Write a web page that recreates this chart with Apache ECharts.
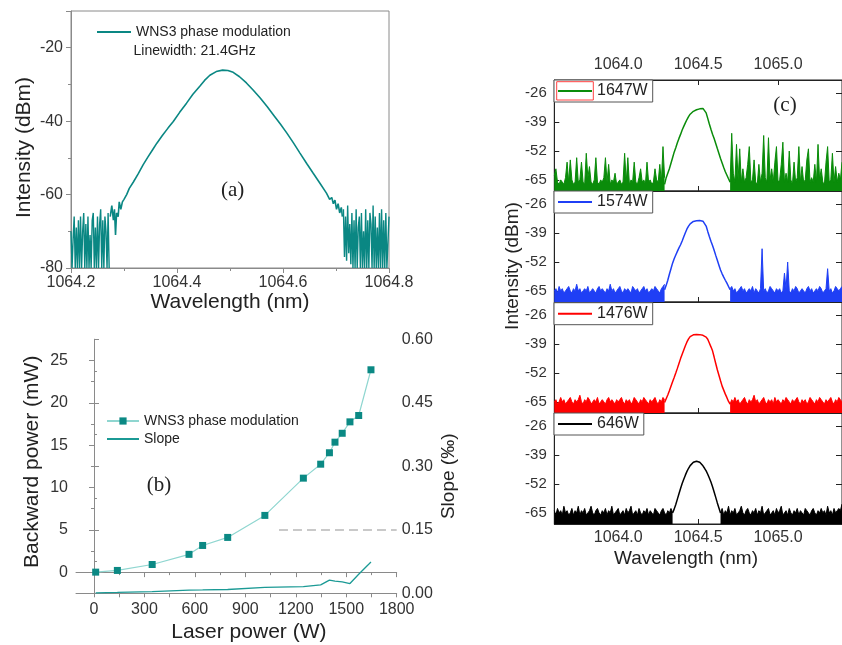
<!DOCTYPE html>
<html><head><meta charset="utf-8">
<script src="https://cdn.jsdelivr.net/npm/echarts/dist/echarts.min.js"></script>
<style>html,body{margin:0;padding:0;background:#fff}#chart{width:842px;height:645px}</style>
</head><body><div id="chart"></div>
<script>
// ---------------- Panel (a) data ----------------
const aNoiseStep = 0.002;
const aNoiseLStart = 1064.200;
const aNoiseRStart = 1064.714;
const aNoiseL = [-70,-80,-72,-66,-80,-69,-80,-67,-80,-66,-80,-70,-65,-80,-68,-80,-66,-80,-71,-80,-67,-65,-80,-69,-80,-66,-80,-68,-64,-80,-67,-80,-66,-70,-80,-65,-80];
const aNoiseR = [-64,-77,-66,-78,-63,-76,-68,-79,-65,-80,-67,-80,-64,-80,-69,-66,-80,-65,-80,-70,-80,-64,-80,-67,-80,-65,-68,-80,-63,-80,-66,-80,-69,-80,-65,-80,-64,-80,-67,-80,-65,-80,-80,-66];
const aPeak = [[1064.274,-66],[1064.277,-63],[1064.280,-67],[1064.282,-64],[1064.284,-71],[1064.286,-65],[1064.289,-66],[1064.291,-62],[1064.294,-64],[1064.297,-62],[1064.300,-61.3],[1064.305,-60],[1064.310,-58.3],[1064.318,-56.5],[1064.327,-54.3],[1064.336,-51.9],[1064.345,-49.8],[1064.354,-47.8],[1064.362,-46.0],[1064.372,-44.0],[1064.383,-41.9],[1064.393,-40.1],[1064.405,-37.6],[1064.418,-35.1],[1064.430,-32.7],[1064.443,-30.5],[1064.452,-28.9],[1064.462,-27.5],[1064.474,-26.5],[1064.486,-26.1],[1064.496,-26.2],[1064.506,-26.7],[1064.518,-27.9],[1064.531,-29.6],[1064.544,-31.6],[1064.557,-33.7],[1064.570,-36.0],[1064.582,-38.3],[1064.595,-40.8],[1064.607,-43.2],[1064.620,-46.0],[1064.632,-48.7],[1064.645,-51.6],[1064.657,-54.2],[1064.670,-57.0],[1064.682,-59.6],[1064.688,-61.3],[1064.692,-60.8],[1064.695,-62.5],[1064.698,-61.5],[1064.701,-64],[1064.704,-62.5],[1064.707,-65],[1064.710,-63.5],[1064.712,-66]];

// ---------------- Panel (b) data ----------------
const bLaser = [10,139,346,565,646,795,1016,1245,1348,1400,1433,1476,1522,1574,1647];
const bBackward = [0,0.2,0.9,2.1,3.15,4.1,6.7,11.1,12.75,14.1,15.35,16.4,17.75,18.5,23.9];
const bSlope = [0.001,0.002,0.004,0.0075,0.008,0.009,0.014,0.016,0.02,0.031,0.029,0.027,0.023,0.045,0.074];
const bRefLine = [1100, 1800, 0.15];
const bXTicks = [0,300,600,900,1200,1500,1800];
const bXMinor = [150,450,750,1050,1350,1650];
const bXTop = [0,150,300,450,600,750,900,1050,1200,1350,1500,1650,1800];
const bYTicks = [0,5,10,15,20,25];
const bYMinor = [2.5,7.5,12.5,17.5,22.5];

// ---------------- Panel (c) data ----------------
const cNames = ['1647W','1574W','1476W','646W'];
const cStep = 0.01;
const cLeftStart = 1063.60;
const cRightStart = [1064.70,1064.70,1064.70,1064.64];
const cYTicks = [-65,-52,-39,-26];
const cXTicks = [1064.0,1064.5,1065.0];
const cNoiseL1647 = [-63,-60,-66,-67,-65,-66,-67,-64,-57,-66,-56,-65,-67,-66,-55,-66,-65,-57,-66,-67,-53,-64,-59,-66,-67,-65,-55,-66,-67,-65,-66,-64,-55,-66,-58,-67,-65,-66,-62,-67,-66,-65,-67,-66,-53,-66,-55,-67,-65,-66,-57,-66,-67,-64,-60,-66,-65,-67,-57,-66,-65,-67,-66,-60,-65,-66,-58,-66,-50,-64];
const cNoiseR1647 = [-66,-44,-62,-66,-49,-65,-51,-66,-60,-66,-64,-58,-50,-66,-65,-56,-66,-67,-58,-66,-62,-45,-64,-66,-46,-65,-60,-66,-57,-50,-66,-65,-58,-48,-66,-62,-66,-52,-65,-67,-57,-66,-64,-50,-66,-59,-66,-65,-56,-51,-66,-64,-66,-58,-66,-49,-65,-60,-66,-67,-57,-50,-66,-65,-53,-66,-59,-66,-62,-65,-57];
const cPeak1647 = [[1064.29,-67],[1064.30,-64],[1064.31,-62],[1064.32,-60],[1064.33,-57.5],[1064.34,-55],[1064.35,-52.5],[1064.36,-50.5],[1064.37,-48.3],[1064.38,-46.3],[1064.39,-44.5],[1064.40,-42.5],[1064.41,-40.9],[1064.42,-39.3],[1064.43,-37.8],[1064.44,-36.5],[1064.45,-35.4],[1064.46,-34.7],[1064.47,-34.1],[1064.48,-33.7],[1064.49,-33.4],[1064.50,-33.2],[1064.51,-33.0],[1064.52,-32.9],[1064.53,-32.8],[1064.54,-33.0],[1064.55,-34.8],[1064.56,-37.3],[1064.57,-39.8],[1064.58,-42.2],[1064.59,-44.4],[1064.60,-46.4],[1064.61,-48.6],[1064.62,-50.9],[1064.63,-53.1],[1064.64,-55.4],[1064.65,-57.4],[1064.66,-59.4],[1064.67,-61.3],[1064.68,-62.9],[1064.69,-64.5],[1064.70,-66]];
const cNoiseL1574 = [-65,-64,-66,-63,-65,-64,-66,-65,-64,-63,-65,-66,-64,-65,-62,-65,-64,-66,-65,-64,-65,-63,-66,-65,-64,-65,-66,-64,-63,-65,-64,-65,-66,-64,-65,-62,-65,-64,-66,-65,-64,-63,-65,-66,-64,-65,-64,-65,-66,-63,-64,-65,-64,-66,-65,-64,-63,-65,-64,-66,-65,-64,-65,-63,-64,-65,-66,-64,-63,-62];
const cNoiseR1574 = [-64,-63,-65,-64,-66,-65,-64,-63,-65,-64,-66,-65,-64,-65,-63,-66,-64,-65,-66,-64,-46,-65,-64,-66,-65,-63,-64,-65,-66,-64,-65,-64,-66,-65,-57,-64,-52,-65,-66,-64,-65,-63,-64,-66,-65,-64,-65,-66,-64,-63,-65,-64,-66,-65,-64,-65,-63,-64,-66,-65,-64,-55,-65,-64,-66,-65,-63,-64,-65,-64,-63];
const cPeak1574 = [[1064.29,-64.5],[1064.30,-62.5],[1064.31,-60.2],[1064.32,-57.5],[1064.33,-55],[1064.34,-52.5],[1064.35,-50.5],[1064.36,-48.8],[1064.37,-47.2],[1064.38,-45.6],[1064.39,-44.2],[1064.40,-42.5],[1064.41,-40.6],[1064.42,-38.8],[1064.43,-37.1],[1064.44,-35.8],[1064.45,-34.8],[1064.46,-34.1],[1064.47,-33.7],[1064.48,-33.5],[1064.49,-33.4],[1064.50,-33.3],[1064.51,-33.3],[1064.52,-33.3],[1064.53,-33.6],[1064.54,-34.2],[1064.55,-35.8],[1064.56,-38.2],[1064.57,-40.5],[1064.58,-42.6],[1064.59,-44.6],[1064.60,-46.7],[1064.61,-49],[1064.62,-51.2],[1064.63,-53.4],[1064.64,-55.6],[1064.65,-57.3],[1064.66,-58.8],[1064.67,-60.2],[1064.68,-61.5],[1064.69,-63],[1064.70,-64.5]];
const cNoiseL1476 = [-65,-64,-66,-65,-63,-65,-64,-66,-65,-64,-63,-65,-66,-64,-65,-64,-62,-65,-66,-64,-65,-63,-64,-66,-65,-64,-65,-63,-66,-65,-64,-65,-66,-64,-63,-65,-64,-65,-66,-64,-65,-64,-63,-65,-66,-64,-65,-64,-66,-65,-63,-64,-65,-66,-64,-65,-63,-64,-65,-66,-64,-65,-64,-63,-65,-66,-64,-65,-63,-64];
const cNoiseR1476 = [-66,-64,-65,-63,-65,-64,-66,-65,-64,-63,-65,-66,-64,-65,-64,-62,-65,-64,-66,-65,-64,-63,-65,-66,-64,-65,-64,-66,-63,-65,-64,-65,-66,-64,-65,-63,-64,-65,-66,-64,-65,-64,-63,-65,-66,-64,-65,-64,-66,-65,-63,-64,-65,-66,-64,-65,-63,-64,-65,-66,-64,-65,-64,-63,-65,-66,-64,-65,-63,-64,-65];
const cPeak1476 = [[1064.29,-65.3],[1064.30,-63.6],[1064.31,-61.9],[1064.32,-60],[1064.33,-57.9],[1064.34,-55.9],[1064.35,-54],[1064.36,-52],[1064.37,-49.9],[1064.38,-47.7],[1064.39,-45.5],[1064.40,-43.5],[1064.41,-41.6],[1064.42,-39.7],[1064.43,-38],[1064.44,-36.6],[1064.45,-35.6],[1064.46,-35.1],[1064.47,-34.8],[1064.48,-34.6],[1064.49,-34.6],[1064.50,-34.6],[1064.51,-34.7],[1064.52,-34.8],[1064.53,-35],[1064.54,-35.3],[1064.55,-35.8],[1064.56,-36.8],[1064.57,-38.5],[1064.58,-40.2],[1064.59,-42],[1064.60,-44.8],[1064.61,-47.7],[1064.62,-50.5],[1064.63,-53],[1064.64,-55.5],[1064.65,-57.9],[1064.66,-59.7],[1064.67,-61.5],[1064.68,-63.1],[1064.69,-64.8],[1064.70,-66]];
const cNoiseL646 = [-64,-66,-63,-65,-64,-66,-62,-65,-64,-66,-65,-63,-66,-64,-65,-62,-66,-64,-65,-63,-66,-65,-64,-62,-65,-66,-64,-63,-65,-66,-64,-65,-63,-66,-64,-65,-62,-66,-65,-64,-63,-66,-65,-64,-66,-63,-65,-64,-62,-66,-65,-64,-66,-63,-65,-66,-64,-65,-63,-66,-64,-65,-66,-63,-64,-65,-66,-64,-63,-65,-66,-64,-65,-63,-65];
const cNoiseR646 = [-65,-63,-66,-64,-65,-62,-66,-64,-65,-63,-66,-65,-64,-62,-65,-66,-64,-63,-65,-66,-64,-65,-63,-66,-64,-65,-62,-66,-65,-64,-63,-66,-65,-64,-66,-63,-65,-64,-62,-66,-65,-64,-66,-63,-65,-66,-64,-65,-63,-66,-64,-65,-66,-63,-64,-65,-66,-64,-63,-65,-66,-64,-65,-63,-65,-64,-66,-62,-65,-64,-66,-63,-65,-64,-63,-64,-61];
const cPeak646 = [[1064.34,-65],[1064.35,-63.3],[1064.36,-61.2],[1064.37,-58.8],[1064.38,-56.4],[1064.39,-54],[1064.40,-51.8],[1064.41,-49.8],[1064.42,-48],[1064.43,-46.3],[1064.44,-44.9],[1064.45,-43.7],[1064.46,-42.8],[1064.47,-42.2],[1064.48,-41.8],[1064.49,-41.7],[1064.50,-41.8],[1064.51,-42.2],[1064.52,-42.9],[1064.53,-43.8],[1064.54,-44.9],[1064.55,-46.1],[1064.56,-47.6],[1064.57,-49.3],[1064.58,-51.1],[1064.59,-53.2],[1064.60,-55.6],[1064.61,-58],[1064.62,-60.5],[1064.63,-62.8],[1064.64,-65]];

// ---------------- styling ----------------
const FONT = 'Liberation Sans';
const SERIF = 'Liberation Serif';
const TEAL = '#0a8783';
const AX_GRAY = '#8a8a8a';
const cColors = ['#0a8c0a','#1f3ff5','#ff0000','#000000'];
const cNoiseL = [cNoiseL1647, cNoiseL1574, cNoiseL1476, cNoiseL646];
const cNoiseR = [cNoiseR1647, cNoiseR1574, cNoiseR1476, cNoiseR646];
const cPeaks = [cPeak1647, cPeak1574, cPeak1476, cPeak646];
const cTops = [80, 191, 302, 413];

function seq(start, step, vals) {
  return vals.map((v, i) => [Math.round((start + i * step) * 10000) / 10000, v]);
}
const lab = (size, extra) => Object.assign({fontFamily: FONT, fontSize: size, color: '#333'}, extra || {});
const plain = v => String(Math.round(v * 1000) / 1000);

const grids = [
  {left: 71, top: 11, width: 318, height: 257, show: true, borderColor: AX_GRAY, borderWidth: 1},
  {left: 76, top: 339.3, width: 320.7, height: 254, show: false}
];
cTops.forEach(t => grids.push({left: 554.3, top: t, width: 292.4, height: 111, show: true, borderColor: '#222', borderWidth: 1}));

const xAxes = [
  { // 0 panel a
    gridIndex: 0, type: 'value', min: 1064.2, max: 1064.8, interval: 0.2,
    axisLine: {lineStyle: {color: AX_GRAY}}, axisTick: {length: 5, lineStyle: {color: AX_GRAY}},
    minorTick: {show: true, splitNumber: 2, length: 3, lineStyle: {color: AX_GRAY}},
    axisLabel: lab(16, {margin: 7, formatter: v => v.toFixed(1)}), splitLine: {show: false},
    name: 'Wavelength (nm)', nameLocation: 'middle', nameGap: 24,
    nameTextStyle: {fontFamily: FONT, fontSize: 21, color: '#222'}
  },
  { // 1 panel b bottom main
    gridIndex: 1, type: 'value', min: -107, max: 1800, position: 'bottom',
    axisLine: {lineStyle: {color: AX_GRAY}},
    axisTick: {length: 5, customValues: bXTicks, lineStyle: {color: AX_GRAY}},
    axisLabel: lab(16, {margin: 8, customValues: bXTicks, formatter: plain}), splitLine: {show: false},
    name: 'Laser power (W)', nameLocation: 'middle', nameGap: 28,
    nameTextStyle: {fontFamily: FONT, fontSize: 21, color: '#222', padding: [0, 0, 0, 25]}
  },
  { // 2 panel b minor ticks
    gridIndex: 1, type: 'value', min: -107, max: 1800, position: 'bottom',
    axisLine: {show: false}, axisLabel: {show: false}, splitLine: {show: false},
    axisTick: {length: 3, customValues: bXMinor, lineStyle: {color: AX_GRAY}}
  },
  { // 3 panel b top
    gridIndex: 1, type: 'value', min: -107, max: 1800, position: 'top',
    axisLine: {lineStyle: {color: AX_GRAY}}, axisLabel: {show: false}, splitLine: {show: false},
    axisTick: {inside: true, length: 4, customValues: bXTop, lineStyle: {color: AX_GRAY}}
  }
];
for (let k = 0; k < 4; k++) {
  xAxes.push({
    gridIndex: 2 + k, type: 'value', min: 1063.6, max: 1065.4, position: 'bottom',
    axisLine: {lineStyle: {color: '#222'}}, splitLine: {show: false},
    axisTick: {inside: true, length: 5, customValues: cXTicks, lineStyle: {color: '#222'}},
    axisLabel: lab(16, {show: k === 3, margin: 6, customValues: cXTicks, formatter: v => v.toFixed(1)})
  });
}
xAxes.push({ // 8 panel c top labels
  gridIndex: 2, type: 'value', min: 1063.6, max: 1065.4, position: 'top',
  axisLine: {lineStyle: {color: '#222'}}, splitLine: {show: false},
  axisTick: {inside: true, length: 5, customValues: cXTicks, lineStyle: {color: '#222'}},
  axisLabel: lab(16, {margin: 7, customValues: cXTicks, formatter: v => v.toFixed(1)})
});

const yAxes = [
  { // 0 panel a
    gridIndex: 0, type: 'value', min: -80, max: -10, interval: 20,
    axisLine: {show: true, lineStyle: {color: AX_GRAY}}, axisTick: {show: true, length: 5, lineStyle: {color: AX_GRAY}},
    minorTick: {show: true, splitNumber: 2, length: 3, lineStyle: {color: AX_GRAY}},
    axisLabel: lab(16, {margin: 8, showMaxLabel: false, formatter: plain}), splitLine: {show: false},
    name: 'Intensity (dBm)', nameLocation: 'middle', nameGap: 36,
    nameTextStyle: {fontFamily: FONT, fontSize: 21, color: '#222', padding: [0, 16, 0, 0]}
  },
  { // 1 panel b left
    gridIndex: 1, type: 'value', min: -2.5, max: 27.5, position: 'left',
    axisLine: {show: true, lineStyle: {color: AX_GRAY}},
    axisTick: {show: true, length: 5, customValues: bYTicks, lineStyle: {color: AX_GRAY}},
    axisLabel: lab(16, {margin: 8, customValues: bYTicks, formatter: plain}), splitLine: {show: false},
    name: 'Backward power (mW)', nameLocation: 'middle', nameGap: 33,
    nameTextStyle: {fontFamily: FONT, fontSize: 21, color: '#222', padding: [0, 0, 0, 9]}
  },
  { // 2 panel b left minor
    gridIndex: 1, type: 'value', min: -2.5, max: 27.5, position: 'left',
    axisLine: {show: false}, axisLabel: {show: false}, splitLine: {show: false},
    axisTick: {show: true, length: 3, customValues: bYMinor, lineStyle: {color: AX_GRAY}}
  },
  { // 3 panel b right
    gridIndex: 1, type: 'value', min: 0, max: 0.6, interval: 0.15, position: 'right',
    axisLine: {show: true, lineStyle: {color: AX_GRAY}},
    axisTick: {show: true, length: 5, lineStyle: {color: AX_GRAY}},
    minorTick: {show: true, splitNumber: 2, length: 3, lineStyle: {color: AX_GRAY}},
    axisLabel: lab(16, {margin: 5, formatter: v => v.toFixed(2)}), splitLine: {show: false},
    name: 'Slope (\u2030)', nameLocation: 'middle', nameGap: 43, nameRotate: 90,
    nameTextStyle: {fontFamily: FONT, fontSize: 19, color: '#222', padding: [0, 20, 0, 0]}
  }
];
for (let k = 0; k < 4; k++) {
  yAxes.push({
    gridIndex: 2 + k, type: 'value', min: -70, max: -20, position: 'left',
    axisLine: {show: true, lineStyle: {color: '#222'}}, splitLine: {show: false},
    axisTick: {show: true, inside: true, length: 5, customValues: cYTicks, lineStyle: {color: '#222'}},
    axisLabel: lab(15, {margin: 7.5, customValues: cYTicks, formatter: plain})
  });
}
for (let k = 0; k < 4; k++) {
  yAxes.push({
    gridIndex: 2 + k, type: 'value', min: -70, max: -20, position: 'right',
    axisLine: {show: true, lineStyle: {color: '#222'}}, splitLine: {show: false}, axisLabel: {show: false},
    axisTick: {show: true, inside: true, length: 6, customValues: cYTicks, lineStyle: {color: '#222'}}
  });
}

const series = [
  {type: 'line', name: 'WNS3 phase modulation', xAxisIndex: 0, yAxisIndex: 0, data: aPeak,
   symbol: 'none', lineStyle: {color: TEAL, width: 1.6}, itemStyle: {color: TEAL}},
  {type: 'line', name: 'a-noise-left', xAxisIndex: 0, yAxisIndex: 0, data: seq(aNoiseLStart, aNoiseStep, aNoiseL),
   symbol: 'none', lineStyle: {color: TEAL, width: 1.4}},
  {type: 'line', name: 'a-noise-right', xAxisIndex: 0, yAxisIndex: 0, data: seq(aNoiseRStart, aNoiseStep, aNoiseR),
   symbol: 'none', lineStyle: {color: TEAL, width: 1.4}},
  {type: 'line', name: 'WNS3 phase modulation (b)', xAxisIndex: 1, yAxisIndex: 1,
   data: bLaser.map((x, i) => [x, bBackward[i]]),
   symbol: 'rect', symbolSize: 7, itemStyle: {color: '#0b8984'}, lineStyle: {color: '#8fd6d0', width: 1.2}, z: 3},
  {type: 'line', name: 'Slope', xAxisIndex: 1, yAxisIndex: 3,
   data: bLaser.map((x, i) => [x, bSlope[i]]),
   symbol: 'none', lineStyle: {color: '#1b9a95', width: 1.3}, itemStyle: {color: '#1b9a95'},
   markLine: {silent: true, symbol: 'none', label: {show: false},
     lineStyle: {color: '#b8b8b8', type: [9, 5], width: 1.6},
     data: [[{coord: [bRefLine[0], bRefLine[2]]}, {coord: [bRefLine[1], bRefLine[2]]}]]}}
];
for (let k = 0; k < 4; k++) {
  const col = cColors[k];
  series.push({type: 'line', name: cNames[k] + ' noise L', xAxisIndex: 4 + k, yAxisIndex: 4 + k,
    data: seq(cLeftStart, cStep, cNoiseL[k]), symbol: 'none',
    lineStyle: {color: col, width: 1}, areaStyle: {color: col, opacity: 1, origin: 'start'}});
  series.push({type: 'line', name: cNames[k], xAxisIndex: 4 + k, yAxisIndex: 4 + k,
    data: cPeaks[k], symbol: 'none', lineStyle: {color: col, width: 1.5}, itemStyle: {color: col}});
  series.push({type: 'line', name: cNames[k] + ' noise R', xAxisIndex: 4 + k, yAxisIndex: 4 + k,
    data: seq(cRightStart[k], cStep, cNoiseR[k]), symbol: 'none',
    lineStyle: {color: col, width: 1}, areaStyle: {color: col, opacity: 1, origin: 'start'}});
}

const legends = [
  {left: 96, top: 25, padding: 0, itemWidth: 34, itemHeight: 14, selectedMode: false,
   data: [{name: 'WNS3 phase modulation', itemStyle: {opacity: 0}}],
   textStyle: {fontFamily: FONT, fontSize: 14, color: '#222'}},
  {left: 106, top: 414, orient: 'vertical', padding: 0, itemWidth: 32, itemHeight: 9, itemGap: 4, selectedMode: false,
   data: ['WNS3 phase modulation (b)', {name: 'Slope', itemStyle: {opacity: 0}}],
   formatter: n => n.replace(' (b)', ''),
   textStyle: {fontFamily: FONT, fontSize: 14, color: '#222'}}
];
const legTop = [80, 191, 302.7, 413];
for (let k = 0; k < 4; k++) {
  legends.push({left: 554, top: legTop[k], padding: [3, 5, 3, 3], itemWidth: 34, itemHeight: 14,
    selectedMode: false, backgroundColor: '#fff', borderColor: '#555', borderWidth: 1, z: 10,
    data: [{name: cNames[k], itemStyle: {opacity: 0}}],
    textStyle: {fontFamily: FONT, fontSize: 16, color: '#222'}});
}

const txt = (x, y, text, font, extra) => Object.assign({
  type: 'text', x: x, y: y, z: 100,
  style: {text: text, font: font, fill: '#222', textAlign: 'center', textVerticalAlign: 'middle', align: 'center', verticalAlign: 'middle'}
}, extra || {});

const graphics = [
  txt(232.7, 190.7, '(a)', '21px "' + SERIF + '"'),
  txt(159, 485.7, '(b)', '21px "' + SERIF + '"'),
  txt(785, 105, '(c)', '21px "' + SERIF + '"'),
  {type: 'text', x: 133.5, y: 50.7, z: 100,
   style: {text: 'Linewidth: 21.4GHz', font: '14px "' + FONT + '"', fill: '#222', textAlign: 'left', textVerticalAlign: 'middle', align: 'left', verticalAlign: 'middle'}},
  txt(512.5, 266, 'Intensity (dBm)', '19px "' + FONT + '"', {rotation: Math.PI / 2}),
  txt(686, 558.3, 'Wavelength (nm)', '19px "' + FONT + '"'),
  {type: 'rect', z: 100, shape: {x: 556.7, y: 81.7, width: 36.6, height: 18.3},
   style: {fill: null, stroke: '#ff4040', lineWidth: 1}}
];

const chart = echarts.init(document.getElementById('chart'), null, {renderer: 'canvas'});
chart.setOption({
  animation: false,
  backgroundColor: '#fff',
  grid: grids, xAxis: xAxes, yAxis: yAxes, series: series,
  legend: legends, graphic: graphics
});
</script></body></html>
